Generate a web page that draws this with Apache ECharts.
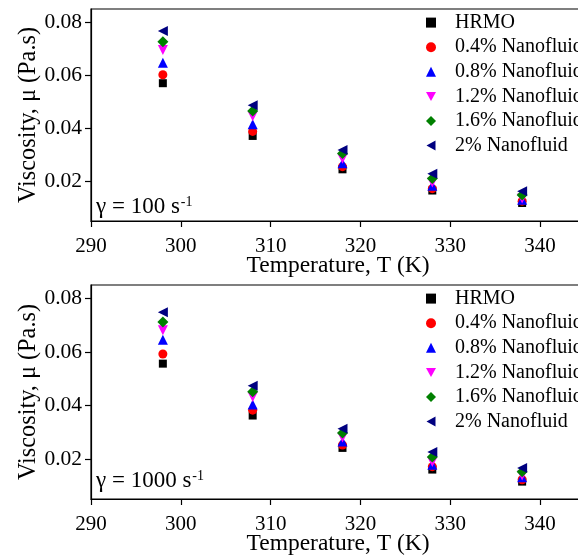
<!DOCTYPE html>
<html>
<head>
<meta charset="utf-8">
<script src="https://cdn.jsdelivr.net/npm/echarts@6/dist/echarts.min.js"></script>
<style>
html,body{margin:0;padding:0;background:#fff;overflow:hidden;width:578px;height:557px;}
#c{width:600px;height:557px;}
</style>
</head>
<body>
<div id="c"></div>
<script>
const temps = [298, 308, 318, 328, 338];
const seriesNames = ['HRMO', '0.4% Nanofluid', '0.8% Nanofluid', '1.2% Nanofluid', '1.6% Nanofluid', '2% Nanofluid'];
const yTicks = [0.02, 0.04, 0.06, 0.08];
const xTicks = [290, 300, 310, 320, 330, 340];
// shear rate 100 1/s
const hrmo100 = [0.0570, 0.0371, 0.0245, 0.0165, 0.0118];
const nf04_100 = [0.0602, 0.0388, 0.0255, 0.0172, 0.0125];
const nf08_100 = [0.0647, 0.0415, 0.0268, 0.0183, 0.0130];
const nf12_100 = [0.0695, 0.0445, 0.0285, 0.0195, 0.0135];
const nf16_100 = [0.0726, 0.0465, 0.0305, 0.0210, 0.0148];
const nf20_100 = [0.0767, 0.0487, 0.0318, 0.0228, 0.0162];
// shear rate 1000 1/s
const hrmo1000 = [0.0556, 0.0362, 0.0241, 0.0160, 0.0115];
const nf04_1000 = [0.0592, 0.0382, 0.0252, 0.0171, 0.0122];
const nf08_1000 = [0.0645, 0.0403, 0.0265, 0.0178, 0.0131];
const nf12_1000 = [0.0681, 0.0431, 0.0280, 0.0188, 0.0138];
const nf16_1000 = [0.0712, 0.0451, 0.0297, 0.0207, 0.0152];
const nf20_1000 = [0.0748, 0.0473, 0.0313, 0.0226, 0.0166];

const data100 = [hrmo100, nf04_100, nf08_100, nf12_100, nf16_100, nf20_100];
const data1000 = [hrmo1000, nf04_1000, nf08_1000, nf12_1000, nf16_1000, nf20_1000];

const DOWN = 'path://M0,0 L10,0 L5,9 Z';
const LEFT = 'path://M9,0 L9,10 L0,5 Z';
const styles = [
  {color: '#000000', symbol: 'rect', size: 8, rot: 0, icon: 'rect'},
  {color: '#ff0000', symbol: 'circle', size: 9, rot: 0, icon: 'circle'},
  {color: '#0000ff', symbol: 'triangle', size: 10, rot: 0, icon: 'triangle'},
  {color: '#ff00ff', symbol: 'triangle', size: 10, rot: 180, icon: DOWN},
  {color: '#008000', symbol: 'diamond', size: 11, rot: 0, icon: 'diamond'},
  {color: '#000080', symbol: 'triangle', size: 10, rot: 90, icon: LEFT}
];

const FONT = 'Liberation Serif';
const grids = [
  {left: 91, top: 9, width: 494, height: 212, show: true, borderColor: '#000', borderWidth: 1.2, backgroundColor: 'transparent'},
  {left: 91, top: 285, width: 494, height: 214, show: true, borderColor: '#000', borderWidth: 1.2, backgroundColor: 'transparent'}
];

function xAxis(i) {
  return {
    type: 'value', gridIndex: i, min: 290, max: 345, interval: 10,
    name: 'Temperature, T (K)', nameLocation: 'middle', nameGap: 33, nameMoveOverlap: false,
    nameTextStyle: {fontFamily: FONT, fontSize: 23.5, color: '#000'},
    axisLine: {show: true, onZero: false, lineStyle: {color: '#000', width: 1.2}},
    axisTick: {show: true, inside: false, length: 6, lineStyle: {color: '#000', width: 1.2}},
    axisLabel: {fontFamily: FONT, fontSize: 21, color: '#000', margin: 15, showMaxLabel: false},
    splitLine: {show: false}
  };
}
function yAxis(i) {
  return {
    type: 'value', gridIndex: i, min: 0.005, max: 0.085,
    name: 'Viscosity, \u03bc (Pa.s)', nameLocation: 'middle', nameGap: 50, nameMoveOverlap: false,
    nameTextStyle: {fontFamily: FONT, fontSize: 24.3, color: '#000'},
    axisLine: {show: true, onZero: false, lineStyle: {color: '#000', width: 1.2}},
    axisTick: {show: true, inside: false, length: 6, customValues: yTicks, lineStyle: {color: '#000', width: 1.2}},
    axisLabel: {fontFamily: FONT, fontSize: 21.5, color: '#000', margin: 9, customValues: yTicks,
      formatter: v => v.toFixed(2)},
    splitLine: {show: false}
  };
}

const series = [];
[data100, data1000].forEach((set, gi) => {
  set.forEach((vals, k) => {
    const st = styles[k];
    series.push({
      type: 'scatter', name: seriesNames[k], xAxisIndex: gi, yAxisIndex: gi,
      symbol: st.symbol, symbolSize: st.size, symbolRotate: st.rot,
      itemStyle: {color: st.color, opacity: 1},
      data: temps.map((t, j) => [t, vals[j]]),
      emphasis: {disabled: true}
    });
  });
});

function legend(top) {
  return {
    orient: 'vertical', left: 421, top: top, itemWidth: 10, itemHeight: 10, itemGap: 4.6,
    data: seriesNames.map((n, k) => ({name: n, icon: styles[k].icon, symbolRotate: 0})),
    selectedMode: false,
    textStyle: {fontFamily: FONT, fontSize: 20, color: '#000', lineHeight: 20, padding: [0, 0, 0, 14]}
  };
}

const rich = {
  a: {fontFamily: FONT, fontSize: 23, color: '#000', lineHeight: 24},
  s: {fontFamily: FONT, fontSize: 14, color: '#000', lineHeight: 24, verticalAlign: 'top', padding: [0, 0, 10, 1]}
};

const chart = echarts.init(document.getElementById('c'), null, {renderer: 'canvas'});
chart.setOption({
  animation: false,
  backgroundColor: '#fff',
  grid: grids,
  xAxis: [xAxis(0), xAxis(1)],
  yAxis: [yAxis(0), yAxis(1)],
  legend: [legend(7.6), legend(283.6)],
  series: series,
  graphic: [
    {type: 'text', left: 96, top: 195, style: {text: '{a|\u03b3 = 100 s}{s|-1}', rich: rich}},
    {type: 'text', left: 96, top: 469, style: {text: '{a|\u03b3 = 1000 s}{s|-1}', rich: rich}}
  ]
});
</script>
</body>
</html>
